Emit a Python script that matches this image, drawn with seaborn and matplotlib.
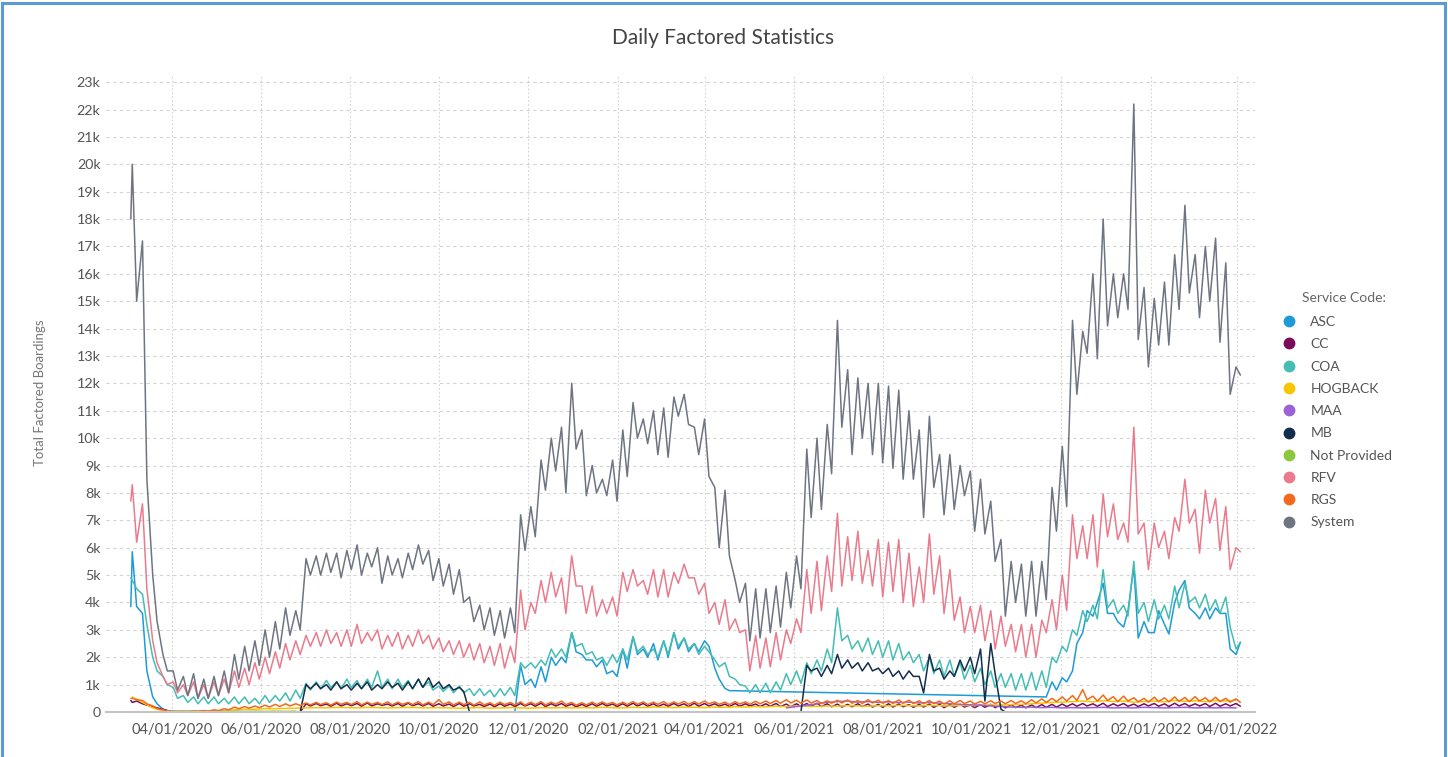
import matplotlib
matplotlib.use("Agg")
import matplotlib.pyplot as plt
import matplotlib.dates as mdates
from matplotlib.lines import Line2D
from matplotlib.patches import Rectangle
from matplotlib.ticker import FixedLocator, FuncFormatter
import pandas as pd
import seaborn as sns


def GAP(n):
    return [None] * n

# ---------------- data (thousands of boardings) ----------------
# Week i: first value = Thursday (Mar 5 2020 + 7i), second = Sunday (Mar 8 2020 + 7i)
SERVICE_CODES = ["ASC", "CC", "COA", "HOGBACK", "MAA", "MB", "Not Provided", "RFV", "RGS", "System"]
COLORS = ["#1E9BD7", "#7B0C5C", "#45BDB3", "#F7C600", "#9B62D8", "#132E4C",
          "#8DC63F", "#E97B8C", "#F26A1B", "#6E7582"]

START = {"System": 18.0, "RFV": 7.7, "COA": 4.9, "ASC": 3.85, "CC": 0.42, "RGS": 0.5}

SYSTEM_HI = [20.0, 17.2, 5.0, 2.1, 1.5, 1.3, 1.4, 1.2, 1.3, 1.5,
             2.1, 2.4, 2.6, 3.0, 3.3, 3.8, 3.7, 5.6, 5.7, 5.8,
             5.8, 5.9, 6.1, 5.8, 6.0, 5.7, 5.6, 5.8, 6.1, 5.9,
             5.6, 5.4, 5.2, 4.2, 3.9, 3.8, 3.7, 3.8, 7.2, 7.5,
             9.2, 10.0, 10.4, 12.0, 10.3, 9.0, 8.5, 9.2, 10.3, 11.3,
             10.7, 11.0, 11.1, 11.5, 11.6, 10.4, 10.7, 8.2, 8.1, 4.8,
             4.7, 4.5, 4.5, 4.6, 5.1, 5.7, 9.6, 10.0, 10.5, 14.3,
             12.5, 12.2, 12.0, 12.0, 11.9, 11.75, 11.0, 10.3, 10.8, 9.4,
             9.4, 9.0, 8.8, 8.5, 7.7, 6.3, 5.5, 5.4, 5.5, 5.5,
             8.2, 9.7, 14.3, 13.9, 16.0, 18.0, 16.0, 16.0, 22.2, 15.5,
             15.1, 15.7, 16.7, 18.5, 16.7, 17.0, 17.3, 16.4, 12.6]
SYSTEM_LO = [15.0, 8.5, 3.3, 1.5, 0.8, 0.6, 0.5, 0.5, 0.6, 0.7,
             1.2, 1.5, 1.7, 2.0, 2.3, 2.8, 3.0, 5.0, 5.0, 5.1,
             4.9, 5.2, 5.0, 5.3, 4.7, 5.0, 4.9, 5.2, 5.4, 4.8,
             4.6, 4.3, 4.0, 3.3, 3.0, 2.8, 2.7, 2.9, 5.9, 6.4,
             8.1, 8.8, 8.0, 9.6, 7.9, 8.0, 7.9, 7.7, 8.6, 10.0,
             9.8, 9.4, 9.3, 10.8, 10.5, 9.4, 8.6, 6.0, 5.7, 4.0,
             2.6, 2.7, 2.9, 3.1, 3.8, 4.5, 7.1, 7.4, 8.7, 10.4,
             9.4, 10.0, 9.4, 9.1, 8.9, 8.5, 8.5, 7.1, 8.2, 7.2,
             7.4, 7.9, 6.6, 6.5, 5.5, 3.5, 4.0, 3.5, 3.5, 4.1,
             6.6, 7.5, 11.6, 13.1, 12.9, 14.1, 14.4, 14.7, 13.6, 12.6,
             13.4, 13.4, 14.7, 15.3, 14.4, 15.0, 13.5, 11.6, 12.3]

RFV_HI = [8.3, 7.6, 2.6, 1.3, 1.1, 1.0, 1.1, 1.0, 1.1, 1.2,
          1.5, 1.6, 1.8, 2.0, 2.2, 2.5, 2.6, 2.8, 2.9, 3.0,
          2.9, 3.0, 3.2, 2.9, 3.0, 2.8, 2.9, 2.8, 3.0, 2.8,
          2.7, 2.6, 2.6, 2.5, 2.5, 2.4, 2.5, 2.4, 4.45, 4.0,
          4.8, 5.1, 4.9, 5.7, 4.6, 4.6, 4.1, 4.2, 5.1, 5.2,
          4.8, 5.2, 5.2, 5.1, 5.4, 4.9, 4.7, 4.0, 4.1, 3.4,
          3.0, 2.8, 2.7, 2.9, 3.0, 3.4, 5.2, 5.5, 5.7, 7.25,
          6.4, 6.6, 5.9, 6.3, 6.2, 6.3, 5.8, 5.3, 6.5, 5.7,
          5.2, 4.2, 3.85, 3.9, 3.7, 3.5, 3.2, 3.2, 3.2, 3.35,
          4.1, 5.0, 7.2, 6.8, 7.2, 7.96, 7.6, 6.9, 10.4, 6.9,
          6.9, 6.6, 7.1, 8.5, 7.4, 8.1, 7.8, 7.5, 6.0]
RFV_LO = [6.2, 4.5, 1.8, 1.0, 0.7, 0.6, 0.5, 0.5, 0.6, 0.7,
          0.9, 1.0, 1.2, 1.4, 1.6, 1.9, 2.1, 2.4, 2.4, 2.5,
          2.4, 2.4, 2.5, 2.6, 2.3, 2.4, 2.3, 2.4, 2.5, 2.3,
          2.2, 2.1, 2.0, 1.9, 1.8, 1.7, 1.6, 1.8, 3.0, 3.6,
          4.0, 4.2, 3.6, 4.6, 3.6, 3.5, 3.6, 3.5, 4.4, 4.6,
          4.3, 4.2, 4.2, 4.7, 4.9, 4.3, 3.6, 3.2, 3.0, 2.9,
          1.5, 1.6, 1.65, 1.9, 2.5, 2.9, 3.6, 3.7, 4.4, 4.6,
          4.8, 4.7, 4.6, 4.2, 4.4, 4.0, 3.85, 4.0, 4.3, 3.6,
          3.35, 2.9, 2.9, 2.6, 2.3, 2.4, 2.2, 2.0, 2.0, 2.9,
          3.0, 3.7, 5.6, 5.6, 5.3, 6.4, 6.3, 6.2, 6.5, 5.2,
          6.0, 5.6, 6.6, 6.9, 5.8, 6.9, 5.9, 5.2, 5.85]

COA_HI = [4.8, 4.3, 2.0, 1.3, 0.9, 0.6, 0.55, 0.55, 0.55, 0.5,
          0.55, 0.55, 0.5, 0.6, 0.6, 0.7, 0.8, 1.05, 1.1, 1.15,
          1.1, 1.2, 1.15, 1.2, 1.5, 1.2, 1.2, 1.15, 1.2, 1.1,
          0.95, 0.95, 0.95, 0.85, 0.85, 0.8, 0.85, 0.9, 1.8, 1.8,
          1.9, 2.3, 2.3, 2.9, 2.5, 2.2, 2.0, 2.1, 2.3, 2.75,
          2.4, 2.3, 2.6, 2.9, 2.7, 2.5, 2.4, 1.9, 1.8, 1.2,
          0.95, 1.0, 1.05, 1.1, 1.4, 1.5, 1.8, 1.9, 2.3, 3.8,
          2.8, 2.6, 2.7, 2.6, 2.6, 2.5, 2.2, 2.1, 2.0, 1.9,
          1.9, 1.8, 1.7, 1.6, 1.5, 1.4, 1.4, 1.4, 1.45, 1.5,
          2.0, 2.4, 3.0, 3.7, 3.9, 5.2, 4.1, 3.9, 5.5, 4.0,
          4.1, 3.9, 4.6, 4.7, 4.2, 4.3, 4.1, 4.2, 2.3]
COA_LO = [4.5, 3.2, 1.5, 1.0, 0.5, 0.35, 0.3, 0.3, 0.3, 0.3,
          0.3, 0.3, 0.3, 0.35, 0.4, 0.4, 0.5, 0.8, 0.85, 0.9,
          0.85, 0.9, 0.85, 0.9, 0.9, 0.85, 0.9, 0.85, 0.9, 0.8,
          0.75, 0.7, 0.7, 0.6, 0.6, 0.55, 0.6, 0.6, 1.6, 1.6,
          1.7, 2.0, 2.0, 2.4, 2.1, 1.9, 1.7, 1.8, 1.9, 2.2,
          2.1, 2.0, 2.1, 2.4, 2.3, 2.1, 2.2, 1.65, 1.3, 1.0,
          0.7, 0.7, 0.7, 0.8, 1.0, 1.05, 1.4, 1.5, 1.8, 2.6,
          2.3, 2.2, 2.1, 2.0, 1.9, 1.9, 1.8, 1.5, 1.4, 1.3,
          1.3, 1.2, 1.1, 1.0, 0.9, 0.9, 0.8, 0.8, 0.8, 0.9,
          1.8, 2.2, 2.8, 3.3, 3.4, 3.8, 3.6, 3.5, 3.6, 3.3,
          3.4, 3.4, 3.8, 4.0, 3.8, 3.7, 3.6, 3.1, 2.55]

ASC_HI = ([5.85, 3.6, 0.55, 0.1, 0.0] + GAP(33)
          + [1.7, 1.2, 1.65, 2.0, 2.0, 2.9, 2.1, 1.9, 1.9, 1.5, 2.3, 2.75, 2.3, 2.5,
             2.6, 2.9, 2.7, 2.5, 2.6, 1.6, 0.86]
          + GAP(31)
          + [1.1, 1.25, 1.5, 2.9, 3.5, 4.7, 3.6, 3.1, 5.3, 3.3, 2.9, 3.2, 4.0, 4.8,
             3.6, 3.8, 3.8, 3.6, 2.1])
ASC_LO = ([3.85, 1.5, 0.3, 0.05] + GAP(33) + [0.0]
          + [1.0, 0.9, 1.1, 1.7, 1.8, 2.2, 1.9, 1.65, 1.4, 1.3, 1.6, 2.1, 2.0, 1.9,
             2.0, 2.3, 2.2, 2.2, 2.4, 1.2, 0.78]
          + GAP(30) + [0.55]
          + [0.8, 1.1, 2.5, 3.7, 4.0, 3.6, 3.3, 3.7, 2.7, 2.9, 3.7, 2.85, 4.45, 3.8,
             3.4, 3.4, 3.6, 2.3, 2.55])

MB_HI = (GAP(17)
         + [1.0, 1.05, 1.0, 1.1, 1.0, 1.05, 1.1, 1.0, 1.1, 1.05, 1.1, 1.2, 1.25, 1.1, 1.0, 0.9]
         + [0.0] + GAP(32)
         + [1.7, 1.6, 1.7, 2.1, 1.9, 1.8, 1.8, 1.6, 1.6, 1.5, 1.5, 1.3, 2.1, 1.6, 1.5,
            1.9, 2.0, 2.3, 2.5]
         + [0.1] + GAP(23))
MB_LO = (GAP(16) + [0.0]
         + [0.85, 0.85, 0.8, 0.85, 0.8, 0.85, 0.8, 0.85, 0.9, 0.8, 0.85, 0.9, 0.9, 0.85, 0.8, 0.75]
         + GAP(32) + [0.0]
         + [1.5, 1.3, 1.4, 1.6, 1.6, 1.5, 1.5, 1.4, 1.3, 1.2, 1.3, 0.7, 1.5, 1.2, 1.3,
            1.5, 1.4, 0.4, 1.4]
         + [0.0] + GAP(23))

CC_HI = ([0.35, 0.3, 0.2, 0.1, 0.02] + GAP(12)
         + [0.30, 0.31, 0.29, 0.32, 0.30, 0.31, 0.33, 0.30, 0.29, 0.31, 0.32, 0.30, 0.31, 0.30,
            0.29, 0.31, 0.30, 0.28, 0.29, 0.30, 0.29, 0.31, 0.30, 0.32, 0.30, 0.31, 0.29]
         + [0.28, 0.30, 0.31, 0.29, 0.30, 0.32, 0.31, 0.30, 0.29, 0.31, 0.30, 0.32, 0.31, 0.30,
            0.29, 0.31, 0.30, 0.29, 0.30, 0.31, 0.29, 0.30, 0.31, 0.32, 0.30, 0.29, 0.28, 0.30,
            0.29, 0.28, 0.30, 0.29, 0.27, 0.28, 0.29, 0.28, 0.27, 0.28, 0.26, 0.27, 0.28, 0.26,
            0.27, 0.25, 0.26, 0.27, 0.28]
         + [0.29, 0.30, 0.31, 0.30, 0.32, 0.30, 0.31, 0.29, 0.30, 0.31, 0.30, 0.32, 0.31, 0.30,
            0.31, 0.32, 0.30, 0.31])
CC_LO = ([0.4, 0.25, 0.15, 0.05] + GAP(12) + [0.0]
         + [0.22, 0.23, 0.21, 0.22, 0.23, 0.21, 0.22, 0.24, 0.22, 0.21, 0.23, 0.22, 0.21, 0.22,
            0.20, 0.21, 0.22, 0.20, 0.19, 0.21, 0.20, 0.22, 0.21, 0.20, 0.22, 0.21, 0.19]
         + [0.20, 0.21, 0.22, 0.20, 0.21, 0.22, 0.21, 0.20, 0.21, 0.22, 0.20, 0.21, 0.22, 0.21,
            0.20, 0.21, 0.22, 0.20, 0.21, 0.20, 0.19, 0.20, 0.21, 0.20, 0.19, 0.18, 0.19, 0.20,
            0.18, 0.17, 0.18, 0.19, 0.17, 0.18, 0.17, 0.16, 0.17, 0.18, 0.16, 0.17, 0.16, 0.15,
            0.16, 0.15, 0.16, 0.17, 0.18]
         + [0.20, 0.21, 0.22, 0.21, 0.20, 0.22, 0.21, 0.20, 0.22, 0.21, 0.20, 0.22, 0.21, 0.22,
            0.20, 0.21, 0.22, 0.21])

RGS_HI = ([0.5, 0.42, 0.22, 0.08, 0.02, 0.02, 0.03, 0.05, 0.08, 0.12, 0.18, 0.2, 0.22, 0.25,
           0.28, 0.3, 0.3]
          + [0.33, 0.35, 0.34, 0.36, 0.35, 0.38, 0.36, 0.35, 0.37, 0.36, 0.35, 0.38, 0.36, 0.45,
             0.37, 0.36, 0.35, 0.37, 0.34, 0.36, 0.35, 0.37, 0.36, 0.38, 0.36, 0.40, 0.35]
          + [0.34, 0.36, 0.37, 0.35, 0.36, 0.38, 0.37, 0.36, 0.38, 0.37, 0.39, 0.38, 0.40, 0.37,
             0.36, 0.38, 0.37, 0.39, 0.40, 0.42, 0.45, 0.43, 0.44, 0.42, 0.41, 0.43, 0.44, 0.42,
             0.45, 0.43, 0.42, 0.44, 0.43, 0.41, 0.42, 0.40, 0.41, 0.42, 0.40, 0.39, 0.41, 0.40,
             0.42, 0.41, 0.45, 0.48, 0.50]
          + [0.55, 0.60, 0.82, 0.58, 0.62, 0.56, 0.58, 0.52, 0.50, 0.54, 0.52, 0.55, 0.53, 0.56,
             0.52, 0.54, 0.50, 0.48])
RGS_LO = ([0.45, 0.3, 0.12, 0.03, 0.01, 0.01, 0.02, 0.03, 0.05, 0.08, 0.12, 0.14, 0.16, 0.18,
           0.2, 0.22, 0.24]
          + [0.26, 0.27, 0.25, 0.28, 0.27, 0.26, 0.28, 0.27, 0.26, 0.28, 0.27, 0.26, 0.27, 0.28,
             0.26, 0.27, 0.25, 0.26, 0.25, 0.27, 0.26, 0.25, 0.27, 0.26, 0.28, 0.27, 0.25]
          + [0.26, 0.27, 0.28, 0.26, 0.27, 0.28, 0.27, 0.28, 0.27, 0.29, 0.28, 0.29, 0.30, 0.28,
             0.27, 0.29, 0.28, 0.30, 0.31, 0.32, 0.33, 0.32, 0.33, 0.31, 0.32, 0.33, 0.32, 0.31,
             0.33, 0.32, 0.31, 0.32, 0.31, 0.30, 0.31, 0.29, 0.30, 0.31, 0.29, 0.30, 0.31, 0.30,
             0.31, 0.30, 0.33, 0.35, 0.38]
          + [0.40, 0.42, 0.45, 0.40, 0.42, 0.38, 0.40, 0.37, 0.36, 0.38, 0.37, 0.39, 0.38, 0.40,
             0.37, 0.38, 0.36, 0.35])

# one value per week (Thursday)
HOGBACK = ([0.55, 0.35, 0.15, 0.05, 0.02, 0.02, 0.03, 0.03, 0.04, 0.05,
            0.08, 0.1, 0.1, 0.12, 0.12, 0.13, 0.14]
           + [0.15, 0.16, 0.15, 0.17, 0.16, 0.15, 0.17, 0.16, 0.15, 0.16, 0.17, 0.16, 0.15, 0.16,
              0.15, 0.14, 0.15, 0.16, 0.14, 0.15, 0.16, 0.15, 0.14, 0.16, 0.15, 0.16, 0.15]
           + [0.16, 0.15, 0.17, 0.16, 0.15, 0.17, 0.16, 0.18, 0.17, 0.16, 0.18, 0.17, 0.16, 0.18,
              0.17, 0.19, 0.18, 0.20, 0.19, 0.21, 0.20, 0.22, 0.21, 0.20, 0.22, 0.21, 0.23, 0.22,
              0.21, 0.23, 0.22, 0.24, 0.23, 0.22, 0.24, 0.23, 0.22, 0.24, 0.23, 0.25, 0.26, 0.25,
              0.27, 0.28, 0.30, 0.32, 0.35]
           + [0.36, 0.38, 0.40, 0.37, 0.42, 0.38, 0.40, 0.36, 0.38, 0.40, 0.37, 0.42, 0.39, 0.41,
              0.38, 0.42, 0.40, 0.43])
MAA = (GAP(64)
       + [0.15, 0.2, 0.25, 0.3, 0.35, 0.38, 0.4, 0.36, 0.38, 0.35, 0.37, 0.34, 0.36, 0.33, 0.35,
          0.32, 0.3, 0.28, 0.26, 0.25, 0.22, 0.2, 0.18, 0.17, 0.18, 0.16, 0.17, 0.15, 0.16, 0.15,
          0.16, 0.17, 0.15, 0.16, 0.15, 0.17, 0.16, 0.15, 0.16, 0.17, 0.15, 0.16, 0.15, 0.16, 0.15])
NOT_PROVIDED = (GAP(3)
                + [0.02, 0.03, 0.02, 0.03, 0.02, 0.03, 0.02, 0.03, 0.02, 0.03, 0.02, 0.03, 0.02, 0.03]
                + GAP(92))

Y_TICKS = list(range(0, 24))
X_TICK_DATES = ["2020-04-01", "2020-06-01", "2020-08-01", "2020-10-01", "2020-12-01",
                "2021-02-01", "2021-04-01", "2021-06-01", "2021-08-01", "2021-10-01",
                "2021-12-01", "2022-02-01", "2022-04-01"]

# ---------------- build long table ----------------
BASE = pd.Timestamp("2020-03-04")
frames = []


def add_series(name, hi, lo=None, start=None):
    dates, vals = [], []
    if start is not None:
        dates.append(BASE)
        vals.append(start)
    for i, h in enumerate(hi):
        dates.append(BASE + pd.Timedelta(days=7 * i + 1))
        vals.append(h)
        if lo is not None:
            dates.append(BASE + pd.Timedelta(days=7 * i + 4))
            vals.append(lo[i])
    frames.append(pd.DataFrame({"Date": dates, "Value": vals, "Service Code": name}))


add_series("ASC", ASC_HI, ASC_LO, START["ASC"])
add_series("CC", CC_HI, CC_LO, START["CC"])
add_series("COA", COA_HI, COA_LO, START["COA"])
add_series("HOGBACK", HOGBACK)
add_series("MAA", MAA)
add_series("MB", MB_HI, MB_LO)
add_series("Not Provided", NOT_PROVIDED)
add_series("RFV", RFV_HI, RFV_LO, START["RFV"])
add_series("RGS", RGS_HI, RGS_LO, START["RGS"])
add_series("System", SYSTEM_HI, SYSTEM_LO, START["System"])

df = pd.concat(frames, ignore_index=True)
df["Value"] = pd.to_numeric(df["Value"], errors="coerce")
df = df.dropna(subset=["Value"])
df["Boardings"] = df["Value"] * 1000

# ---------------- plot ----------------
sns.set_theme(style="white")
plt.rcParams["font.family"] = ["Lato", "DejaVu Sans"]

fig = plt.figure(figsize=(14.48, 7.57), dpi=100)
ax = fig.add_axes([106 / 1448, 1 - 712 / 757, (1255 - 106) / 1448, (712 - 75) / 757])

palette = dict(zip(SERVICE_CODES, COLORS))
sns.lineplot(data=df, x="Date", y="Boardings", hue="Service Code",
             hue_order=SERVICE_CODES, palette=palette, estimator=None,
             linewidth=1.1, legend=False, ax=ax)

ax.set_xlim(pd.Timestamp("2020-02-16"), pd.Timestamp("2022-04-13"))
ax.set_ylim(0, 23260)
ax.yaxis.set_major_locator(FixedLocator([t * 1000 for t in Y_TICKS]))
ax.yaxis.set_major_formatter(FuncFormatter(lambda v, p: "0" if v == 0 else f"{int(round(v / 1000))}k"))
ax.xaxis.set_major_locator(FixedLocator([mdates.date2num(pd.Timestamp(d)) for d in X_TICK_DATES]))
ax.xaxis.set_major_formatter(mdates.DateFormatter("%m/%d/%Y"))

ax.set_axisbelow(True)
ax.yaxis.grid(True, color="#d4d4d4", linestyle=(0, (3, 3)), linewidth=0.8)
ax.xaxis.grid(True, color="#d4d4d4", linestyle=(0, (1.5, 2)), linewidth=0.8)
for s in ["top", "right", "left"]:
    ax.spines[s].set_visible(False)
ax.spines["bottom"].set_color("#c4c4c4")
ax.spines["bottom"].set_linewidth(1.5)
ax.tick_params(axis="y", length=0, pad=4, labelsize=10.3, labelcolor="#555555")
ax.tick_params(axis="x", length=4, width=1, color="#c4c4c4", pad=4, labelsize=10.5,
               labelcolor="#555555")
ax.set_xlabel("")
ax.set_ylabel("")

fig.text(40 / 1448, 1 - 393 / 757, "Total Factored Boardings", rotation=90,
         ha="center", va="center", fontsize=9.5, color="#777777")
fig.text(723 / 1448, 1 - 38 / 757, "Daily Factored Statistics", ha="center", va="center",
         fontsize=15, color="#444444")

# legend: title text plus circle-marker entries
fig.text(1302 / 1448, 1 - 298 / 757, "Service Code:", ha="left", va="center",
         fontsize=10, color="#666666")
handles = [Line2D([0], [0], marker="o", linestyle="none", markersize=7.5,
                  markerfacecolor=c, markeredgecolor=c) for c in COLORS]
leg = fig.legend(handles, SERVICE_CODES, loc="upper left",
                 bbox_to_anchor=(1284 / 1448, 1 - 316 / 757), frameon=False,
                 fontsize=10, handlelength=0.7, handletextpad=1.2, labelspacing=0.74,
                 borderpad=0, borderaxespad=0)
for t in leg.get_texts():
    t.set_color("#555555")

fig.patches.append(Rectangle((2 / 1448, -0.02), 1 - 5 / 1448, 1.02 - 3 / 757,
                             transform=fig.transFigure, fill=False,
                             edgecolor="#5B9BD5", linewidth=2.2, clip_on=False))

fig.savefig("out.png", dpi=100)
